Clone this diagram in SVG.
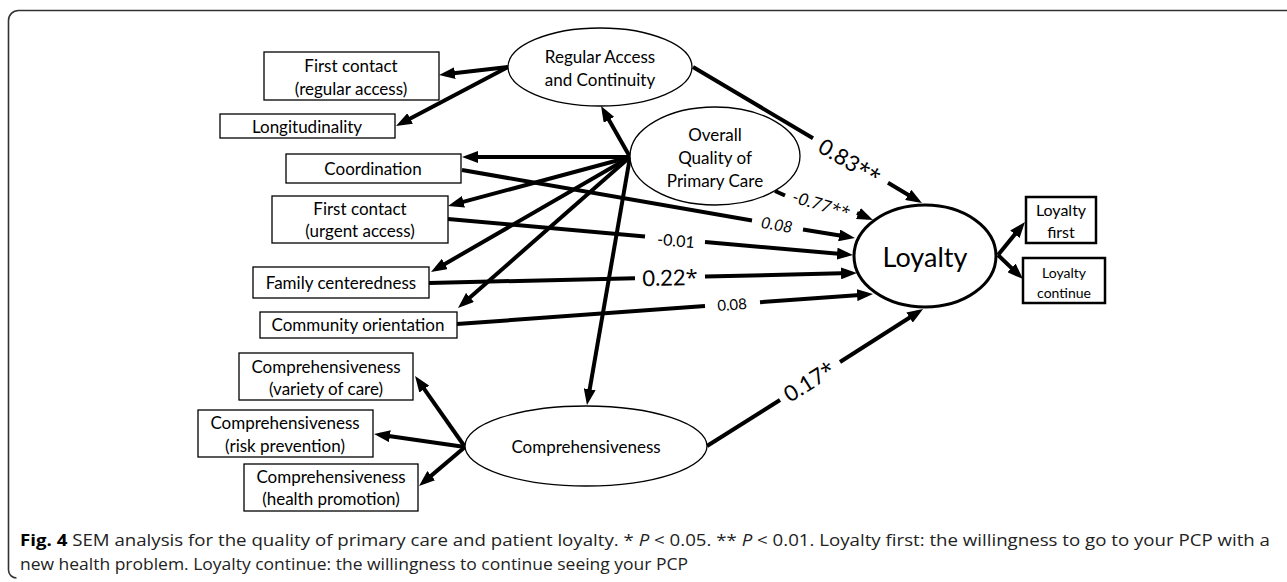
<svg xmlns="http://www.w3.org/2000/svg" width="1287" height="582" viewBox="0 0 1287 582">
<style>
.box{fill:#fff;stroke:#000;stroke-width:1.3}
.boxb{fill:#fff;stroke:#000;stroke-width:2.5}
.ell{fill:#fff;stroke:#000;stroke-width:1.3}
.ellb{fill:#fff;stroke:#000;stroke-width:3}
.t{font-family:Lato,"Open Sans",sans-serif;font-size:17px;fill:#000;text-anchor:middle}
.big{font-size:27px}
.s16{font-size:16px}
.s14{font-size:14px}
.c{stroke:#000;stroke-width:4;fill:none}
.lbl{font-family:Lato,"Open Sans",sans-serif;fill:#000;text-anchor:middle;dominant-baseline:central}
.ast{font-family:"Open Sans",sans-serif}
.cap{font-family:"Open Sans","Noto Sans",sans-serif;font-size:16px;fill:#222}
</style>
<defs>
<marker id="ah" markerUnits="userSpaceOnUse" markerWidth="16" markerHeight="12" refX="10" refY="6" orient="auto">
<path d="M0,0 L16,6 L0,12 z" fill="#000"/>
</marker>
</defs>
<rect width="1287" height="582" fill="#fff"/>
<path d="M1287,10.5 H18.5 A10,10 0 0 0 8.5,20.5 V570 A8,8 0 0 0 16.5,578" fill="none" stroke="#333" stroke-width="1.6"/>

<g id="connectors">
<line class="c" x1="508" y1="67" x2="445" y2="74.3" marker-end="url(#ah)"/>
<line class="c" x1="508" y1="67" x2="401.3" y2="123.2" marker-end="url(#ah)"/>
<line class="c" x1="630" y1="157" x2="604" y2="111.2" marker-end="url(#ah)"/>
<line class="c" x1="630" y1="157" x2="468" y2="157" marker-end="url(#ah)"/>
<line class="c" x1="630" y1="157" x2="453.8" y2="204.4" marker-end="url(#ah)"/>
<line class="c" x1="630" y1="157" x2="436.2" y2="269" marker-end="url(#ah)"/>
<line class="c" x1="630" y1="157" x2="462.5" y2="304" marker-end="url(#ah)"/>
<line class="c" x1="630" y1="157" x2="588" y2="399.1" marker-end="url(#ah)"/>
<line class="c" x1="693" y1="67" x2="813" y2="138.3"/>
<line class="c" x1="888" y1="182.8" x2="916.8" y2="200" marker-end="url(#ah)"/>
<line class="c" x1="775" y1="191" x2="785" y2="195.5"/>
<line class="c" x1="857" y1="213" x2="867.5" y2="217.6" marker-end="url(#ah)"/>
<line class="c" x1="462" y1="170" x2="752" y2="220.5"/>
<line class="c" x1="803" y1="229.5" x2="849" y2="237" marker-end="url(#ah)"/>
<line class="c" x1="448" y1="219" x2="645" y2="236.5"/>
<line class="c" x1="705" y1="241.9" x2="847" y2="254.5" marker-end="url(#ah)"/>
<line class="c" x1="429" y1="283" x2="635" y2="278.2"/>
<line class="c" x1="705" y1="276.5" x2="851" y2="273.1" marker-end="url(#ah)"/>
<line class="c" x1="457" y1="324" x2="705" y2="306.1"/>
<line class="c" x1="760" y1="302.2" x2="867" y2="294.4" marker-end="url(#ah)"/>
<line class="c" x1="707" y1="446" x2="780" y2="400"/>
<line class="c" x1="840" y1="362" x2="918" y2="312.2" marker-end="url(#ah)"/>
<line class="c" x1="465" y1="447" x2="418.5" y2="380.9" marker-end="url(#ah)"/>
<line class="c" x1="465" y1="447" x2="380" y2="434.8" marker-end="url(#ah)"/>
<line class="c" x1="465" y1="447" x2="423.6" y2="482.1" marker-end="url(#ah)"/>
<line class="c" x1="998" y1="255" x2="1021.2" y2="226.6" marker-end="url(#ah)"/>
<line class="c" x1="998" y1="255" x2="1018.7" y2="274.9" marker-end="url(#ah)"/>
<text class="lbl" font-size="22" transform="translate(850,161) rotate(30.7)">0.83<tspan class="ast">**</tspan></text>
<text class="lbl" font-size="17" font-style="italic" transform="translate(821,204) rotate(16.5)">-0.77<tspan class="ast">**</tspan></text>
<text class="lbl" font-size="16" font-style="italic" transform="translate(777,224) rotate(9.8)">0.08</text>
<text class="lbl" font-size="16" transform="translate(676,240) rotate(5)">-0.01</text>
<text class="lbl" font-size="22" transform="translate(670,277) rotate(-1.3)">0.22<tspan class="ast">*</tspan></text>
<text class="lbl" font-size="15" transform="translate(732,304) rotate(-4.1)">0.08</text>
<text class="lbl" font-size="22" transform="translate(809,381) rotate(-32.4)">0.17<tspan class="ast">*</tspan></text>
</g>

<g id="regular-access">
<ellipse class="ell" cx="600" cy="67" rx="92" ry="39"/>
<text class="t" x="600" y="63">Regular Access</text>
<text class="t" x="600" y="86">and Continuity</text>
</g>
<g id="overall-quality">
<ellipse class="ell" cx="715" cy="156" rx="85" ry="49"/>
<text class="t" x="715" y="141">Overall</text>
<text class="t" x="715" y="164">Quality of</text>
<text class="t" x="715" y="187">Primary Care</text>
</g>
<g id="comprehensiveness">
<ellipse class="ell" cx="586" cy="446" rx="121" ry="40"/>
<text class="t" x="586" y="453">Comprehensiveness</text>
</g>
<g id="loyalty">
<ellipse class="ellb" cx="925" cy="256" rx="71" ry="51"/>
<text class="t big" x="925" y="267">Loyalty</text>
</g>
<g id="first-contact-regular">
<rect class="box" x="264" y="52" width="175" height="48"/>
<text class="t" x="351" y="72">First contact</text>
<text class="t" x="351" y="95">(regular access)</text>
</g>
<g id="longitudinality">
<rect class="box" x="220" y="114" width="175" height="24"/>
<text class="t" x="307" y="133">Longitudinality</text>
</g>
<g id="coordination">
<rect class="box" x="286" y="154" width="175" height="29"/>
<text class="t" x="373" y="175">Coordination</text>
</g>
<g id="first-contact-urgent">
<rect class="box" x="272" y="196" width="176" height="47"/>
<text class="t" x="360" y="215">First contact</text>
<text class="t" x="360" y="237">(urgent access)</text>
</g>
<g id="family-centeredness">
<rect class="box" x="253" y="267" width="176" height="31"/>
<text class="t" x="341" y="289">Family centeredness</text>
</g>
<g id="community-orientation">
<rect class="box" x="260" y="312" width="197" height="26"/>
<text class="t" x="358" y="331">Community orientation</text>
</g>
<g id="comp-variety">
<rect class="box" x="239" y="353" width="174" height="47"/>
<text class="t" x="326" y="373">Comprehensiveness</text>
<text class="t" x="326" y="395">(variety of care)</text>
</g>
<g id="comp-risk">
<rect class="box" x="198" y="410" width="175" height="47"/>
<text class="t" x="285" y="429">Comprehensiveness</text>
<text class="t" x="285" y="452">(risk prevention)</text>
</g>
<g id="comp-health">
<rect class="box" x="244" y="464" width="174" height="47"/>
<text class="t" x="331" y="483">Comprehensiveness</text>
<text class="t" x="331" y="505">(health promotion)</text>
</g>
<g id="loyalty-first">
<rect class="boxb" x="1026" y="197" width="70" height="46"/>
<text class="t s16" x="1061" y="216">Loyalty</text>
<text class="t s16" x="1061" y="238">first</text>
</g>
<g id="loyalty-continue">
<rect class="boxb" x="1023" y="258" width="82" height="45"/>
<text class="t s14" x="1064" y="278">Loyalty</text>
<text class="t s14" x="1064" y="298">continue</text>
</g>

<g id="caption">
<text class="cap" x="20" y="546" textLength="1250" lengthAdjust="spacingAndGlyphs"><tspan font-weight="bold" fill="#000">Fig. 4</tspan> SEM analysis for the quality of primary care and patient loyalty. * <tspan font-style="italic">P</tspan> &lt; 0.05. ** <tspan font-style="italic">P</tspan> &lt; 0.01. Loyalty first: the willingness to go to your PCP with a</text>
<text class="cap" x="20" y="570" textLength="668" lengthAdjust="spacingAndGlyphs">new health problem. Loyalty continue: the willingness to continue seeing your PCP</text>
</g>
</svg>
